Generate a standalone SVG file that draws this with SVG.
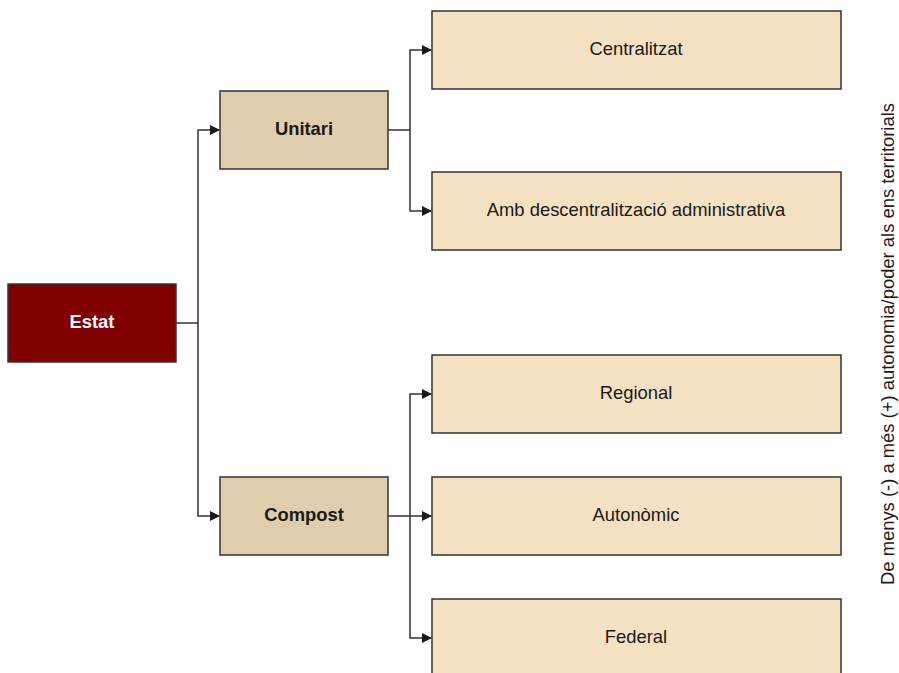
<svg xmlns="http://www.w3.org/2000/svg" width="899" height="673" viewBox="0 0 899 673">
<defs>
<marker id="ah" markerWidth="10" markerHeight="10" refX="9" refY="5" orient="auto" markerUnits="userSpaceOnUse">
<path d="M0,0 L10,5 L0,10 Z" fill="#1a1a1a"/>
</marker>
<style>
.box{stroke:#333;stroke-width:1.5}
.root{fill:#800000}
.mid{fill:#dfcdab}
.leaf{fill:#f4e1c2}
.t{font-family:"Liberation Sans",Arial,sans-serif;font-size:18.4px;text-anchor:middle;dominant-baseline:central;fill:#1a1a1a}
.b{font-weight:bold}
.c{fill:none;stroke:#333;stroke-width:1.5}
</style>
</defs>
<rect width="899" height="673" fill="#fff"/>
<g id="connectors">
<path class="c" d="M176,323 H198"/>
<path class="c" d="M198,323 V130 H219" marker-end="url(#ah)"/>
<path class="c" d="M198,323 V516 H219" marker-end="url(#ah)"/>
<path class="c" d="M388,130 H410"/>
<path class="c" d="M410,130 V50 H431" marker-end="url(#ah)"/>
<path class="c" d="M410,130 V211 H431" marker-end="url(#ah)"/>
<path class="c" d="M388,516 H431" marker-end="url(#ah)"/>
<path class="c" d="M410,516 V394 H431" marker-end="url(#ah)"/>
<path class="c" d="M410,516 V638 H431" marker-end="url(#ah)"/>
</g>
<g id="estat"><rect class="box root" x="8" y="284" width="168" height="78"/><text class="t b" x="92" y="321" style="fill:#fff">Estat</text></g>
<g id="unitari"><rect class="box mid" x="220" y="91" width="168" height="78"/><text class="t b" x="304" y="128">Unitari</text></g>
<g id="compost"><rect class="box mid" x="220" y="477" width="168" height="78"/><text class="t b" x="304" y="514">Compost</text></g>
<g id="centralitzat"><rect class="box leaf" x="432" y="11" width="409" height="78"/><text class="t" x="636" y="48">Centralitzat</text></g>
<g id="descentralitzacio"><rect class="box leaf" x="432" y="172" width="409" height="78"/><text class="t" x="636" y="209">Amb descentralització administrativa</text></g>
<g id="regional"><rect class="box leaf" x="432" y="355" width="409" height="78"/><text class="t" x="636" y="392">Regional</text></g>
<g id="autonomic"><rect class="box leaf" x="432" y="477" width="409" height="78"/><text class="t" x="636" y="514">Autonòmic</text></g>
<g id="federal"><rect class="box leaf" x="432" y="599" width="409" height="78"/><text class="t" x="636" y="636">Federal</text></g>
<g id="axis"><text class="t" x="887" y="344" transform="rotate(-90 887 344)">De menys (-) a més (+) autonomia/poder als ens territorials</text></g>
</svg>
